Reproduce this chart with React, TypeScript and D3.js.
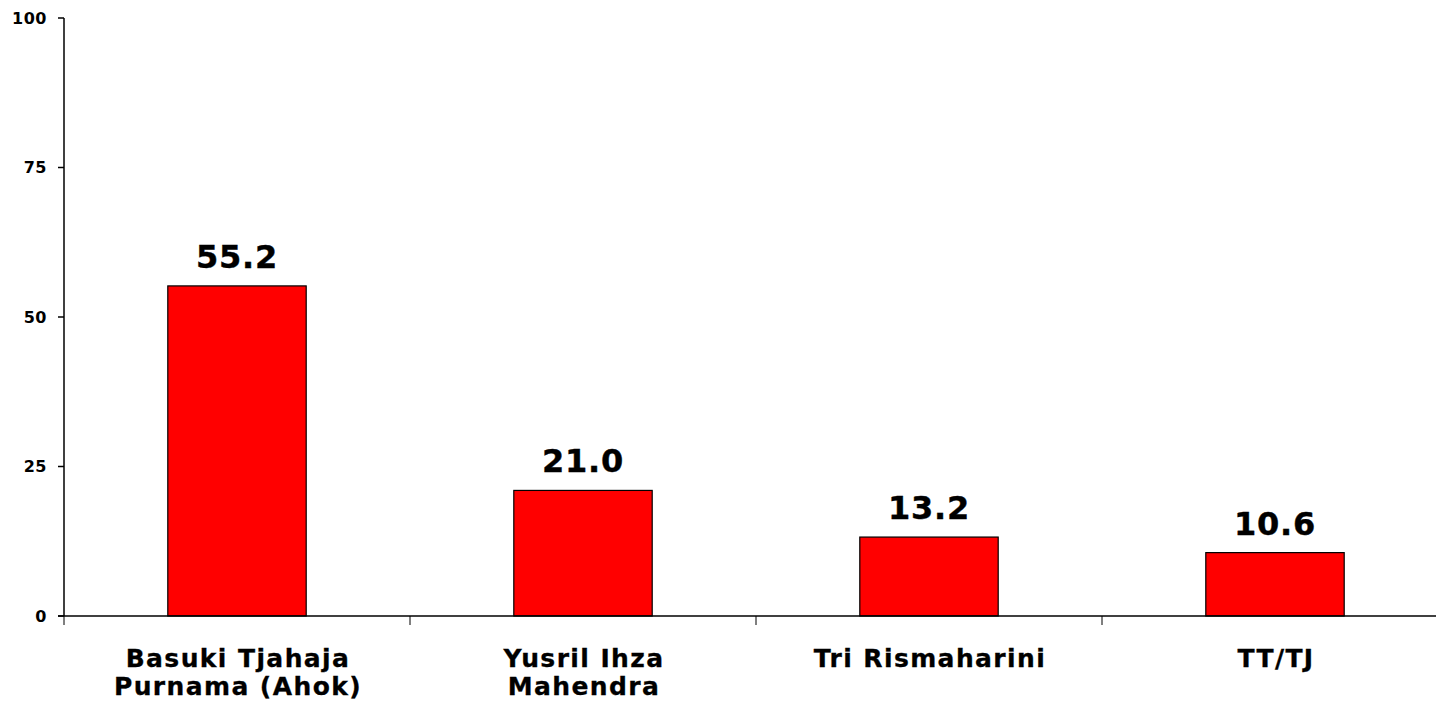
import React from 'react';
import * as d3 from 'd3';

const categories = [
  ['Basuki Tjahaja', 'Purnama (Ahok)'],
  ['Yusril Ihza', 'Mahendra'],
  ['Tri Rismaharini'],
  ['TT/TJ'],
];
const values = [55.2, 21.0, 13.2, 10.6];
const yTicks = [0, 25, 50, 75, 100];

const W = 1436;
const H = 710;
const font = '"DejaVu Sans", Verdana, sans-serif';

export default function App() {
  const left = 64;
  const top = 18;
  const bottom = 616;

  const x = d3.scaleBand<number>()
    .domain(d3.range(values.length))
    .range([left, left + 346 * values.length])
    .paddingInner(0.6)
    .paddingOuter(0.3);
  const y = d3.scaleLinear().domain([0, 100]).range([bottom, top]);
  const step = x.step();
  const catTicks = d3.range(values.length + 1).map((i) => left + i * step);

  return (
    <svg width={W} height={H} style={{ position: 'absolute', left: 0, top: 0, background: '#fff' }}
      fontFamily={font} fontWeight="bold">
      {/* bars */}
      {values.map((v, i) => (
        <rect key={i} x={x(i)} y={y(v)} width={x.bandwidth()} height={y(0) - y(v)}
          fill="#ff0000" stroke="#000" strokeWidth={1.2} />
      ))}
      {values.map((v, i) => (
        <text key={'v' + i} x={(x(i) as number) + x.bandwidth() / 2} y={y(v) - 18}
          textAnchor="middle" fontSize={32} letterSpacing={0.8} stroke="#000" strokeWidth={0.4}>{v.toFixed(1)}</text>
      ))}

      {/* y axis */}
      <line x1={left} x2={left} y1={top} y2={bottom} stroke="#000" strokeWidth={1.5} />
      {yTicks.map((t) => (
        <g key={t}>
          <line x1={left - 6} x2={left} y1={y(t)} y2={y(t)} stroke="#000" strokeWidth={1.5} />
          <text x={left - 17} y={y(t)} dy="0.36em" textAnchor="end" fontSize={16} letterSpacing={0.5}>{t}</text>
        </g>
      ))}

      {/* x axis */}
      <line x1={left - 6} x2={W} y1={bottom} y2={bottom} stroke="#000" strokeWidth={1.5} />
      {catTicks.map((t, i) => (
        <line key={i} x1={t} x2={t} y1={bottom} y2={bottom + 9} stroke="#000" strokeWidth={1} />
      ))}
      {categories.map((lines, i) => (
        <text key={'c' + i} x={(x(i) as number) + x.bandwidth() / 2 + 1} y={667}
          textAnchor="middle" fontSize={25} letterSpacing={1.4} stroke="#000" strokeWidth={0.3}>
          {lines.map((l, j) => (
            <tspan key={j} x={(x(i) as number) + x.bandwidth() / 2 + 1} dy={j === 0 ? 0 : 28}>{l}</tspan>
          ))}
        </text>
      ))}
    </svg>
  );
}
